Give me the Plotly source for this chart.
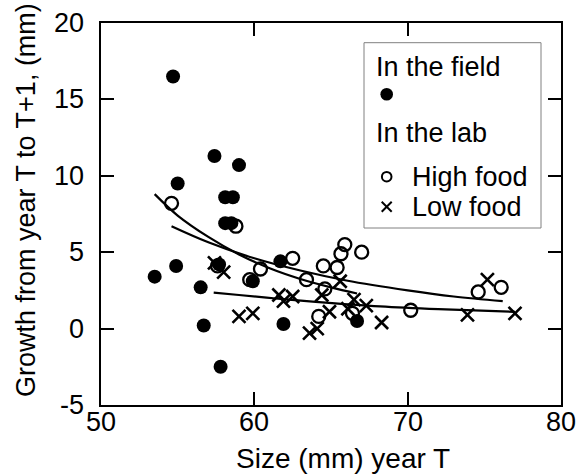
import plotly.graph_objects as go

# ---- data ----
field_x = [53.5, 54.7, 54.9, 55.0, 56.5, 56.7, 57.4, 57.7, 57.8, 58.1, 58.5, 58.1, 58.6, 59.0, 59.9, 61.7, 61.9, 66.7]
field_y = [3.4, 16.5, 4.1, 9.5, 2.7, 0.2, 11.3, 4.2, -2.5, 6.9, 6.9, 8.6, 8.6, 10.7, 3.1, 4.4, 0.3, 0.5]

high_x = [54.6, 57.6, 58.8, 59.7, 60.4, 62.5, 63.4, 64.2, 64.5, 64.6, 65.4, 65.65, 65.9, 67.0, 66.4, 70.2, 74.6, 76.1]
high_y = [8.2, 4.1, 6.7, 3.2, 3.9, 4.6, 3.2, 0.8, 4.1, 2.6, 4.0, 4.9, 5.5, 5.0, 1.0, 1.2, 2.4, 2.7]

low_x = [57.4, 58.0, 59.0, 59.9, 61.6, 61.9, 62.5, 63.6, 64.1, 64.4, 64.9, 65.6, 66.1, 66.5, 67.3, 68.3, 73.9, 75.2, 77.0]
low_y = [4.3, 3.7, 0.8, 1.0, 2.2, 1.8, 2.1, -0.3, 0.0, 2.2, 1.1, 3.1, 1.3, 1.9, 1.5, 0.4, 0.9, 3.2, 1.0]

# fitted curves
fit_field_x = [53.5, 55.0, 57.0, 59.0, 61.0, 63.0, 65.0, 66.7]
fit_field_y = [8.8, 7.4, 6.0, 4.85, 3.95, 3.25, 2.7, 2.3]

fit_high_x = [54.6, 57.0, 60.0, 63.0, 66.0, 70.0, 73.0, 76.2]
fit_high_y = [6.7, 5.65, 4.6, 3.8, 3.15, 2.5, 2.1, 1.8]

fit_low_x = [57.35, 59.0, 61.4, 64.0, 68.2, 72.0, 77.0]
fit_low_y = [2.35, 2.2, 1.97, 1.75, 1.45, 1.27, 1.1]

x_ticks = [50, 60, 70, 80]
y_ticks = [-5, 0, 5, 10, 15, 20]

legend_headers = ["In the field", "In the lab"]
legend_labels = ["High food", "Low food"]

FONT = "Liberation Sans, Arial, Helvetica, sans-serif"

# plot-area geometry (pixels) used to place texts outside the axes
W, H = 586, 476
ML, MR, MT, MB = 101, 25, 23, 71
PW, PH = W - ML - MR, H - MT - MB


def px(xpix):
    return (xpix - ML) / PW


def py(ypix):
    return (H - MB - ypix) / PH


fig = go.Figure()

line_style = dict(color="black", width=2.2, shape="spline")
for fx, fy in [(fit_field_x, fit_field_y), (fit_high_x, fit_high_y), (fit_low_x, fit_low_y)]:
    fig.add_trace(go.Scatter(x=fx, y=fy, mode="lines", line=line_style,
                             showlegend=False, hoverinfo="skip"))

fig.add_trace(go.Scatter(
    x=field_x, y=field_y, mode="markers", showlegend=False, name="In the field",
    marker=dict(symbol="circle", size=14, color="black", line=dict(width=0)),
))
fig.add_trace(go.Scatter(
    x=high_x, y=high_y, mode="markers", showlegend=False, name="High food",
    marker=dict(symbol="circle-open", size=13, color="black", line=dict(width=2.3, color="black")),
))
fig.add_trace(go.Scatter(
    x=low_x, y=low_y, mode="markers", showlegend=False, name="Low food",
    marker=dict(symbol="x-thin", size=13, color="black", line=dict(width=2.6, color="black")),
))

axis_common = dict(
    showline=True, linecolor="black", linewidth=2, mirror="ticks",
    ticks="inside", ticklen=13, tickwidth=2, tickcolor="black",
    showgrid=False, zeroline=False, showticklabels=False,
)

fig.update_xaxes(range=[50, 80], tickvals=x_ticks, **axis_common)
fig.update_yaxes(range=[-5, 20], tickvals=y_ticks, **axis_common)

tick_font = dict(family=FONT, size=27, color="black")
for v in x_ticks:
    fig.add_annotation(text=str(v), xref="x", yref="paper", x=v, y=py(422),
                       xanchor="center", yanchor="middle", showarrow=False, font=tick_font)
for v in y_ticks:
    fig.add_annotation(text=str(v), xref="paper", yref="y", x=px(86), y=v,
                       xanchor="right", yanchor="middle", showarrow=False, font=tick_font)

fig.add_annotation(text="Size (mm) year T", xref="paper", yref="paper",
                   x=px(342.7), y=py(458), xanchor="center", yanchor="middle", showarrow=False,
                   font=dict(family=FONT, size=28, color="black"))
fig.add_annotation(text="Growth from year T to T+1, (mm)", xref="paper", yref="paper",
                   x=px(26), y=py(200), xanchor="center", yanchor="middle", showarrow=False,
                   textangle=-90, font=dict(family=FONT, size=27, color="black"))

# ---- hand-built legend ----
fig.add_shape(type="rect", xref="paper", yref="paper",
              x0=px(364), x1=px(541), y0=py(228), y1=py(42.7),
              line=dict(color="#808080", width=1), fillcolor="white", layer="above")

leg_font = dict(family=FONT, size=27, color="black")
for text, yy in zip(legend_headers, [66.7, 133]):
    fig.add_annotation(text=text, xref="paper", yref="paper", x=px(374), y=py(yy),
                       xanchor="left", yanchor="middle", showarrow=False, font=leg_font)
for text, yy in zip(legend_labels, [176.7, 206.7]):
    fig.add_annotation(text=text, xref="paper", yref="paper", x=px(410), y=py(yy),
                       xanchor="left", yanchor="middle", showarrow=False, font=leg_font)

sx = px(386.7)
# filled dot
fig.add_shape(type="circle", xref="paper", yref="paper", xsizemode="pixel", ysizemode="pixel",
              xanchor=sx, yanchor=py(94.3), x0=-6.3, x1=6.3, y0=-6.3, y1=6.3,
              fillcolor="black", line=dict(width=0), layer="above")
# open circle
fig.add_shape(type="circle", xref="paper", yref="paper", xsizemode="pixel", ysizemode="pixel",
              xanchor=sx, yanchor=py(176.7), x0=-4.8, x1=4.8, y0=-4.8, y1=4.8,
              fillcolor="rgba(0,0,0,0)", line=dict(color="black", width=2), layer="above")
# cross
for dy in (1, -1):
    fig.add_shape(type="line", xref="paper", yref="paper", xsizemode="pixel", ysizemode="pixel",
                  xanchor=sx, yanchor=py(206.7), x0=-5, x1=5, y0=-5 * dy, y1=5 * dy,
                  line=dict(color="black", width=2), layer="above")

fig.update_layout(
    width=W, height=H,
    margin=dict(l=ML, r=MR, t=MT, b=MB),
    paper_bgcolor="white", plot_bgcolor="white",
    font=dict(family=FONT, size=27, color="black"),
    showlegend=False,
)

fig.write_html("out.html")
